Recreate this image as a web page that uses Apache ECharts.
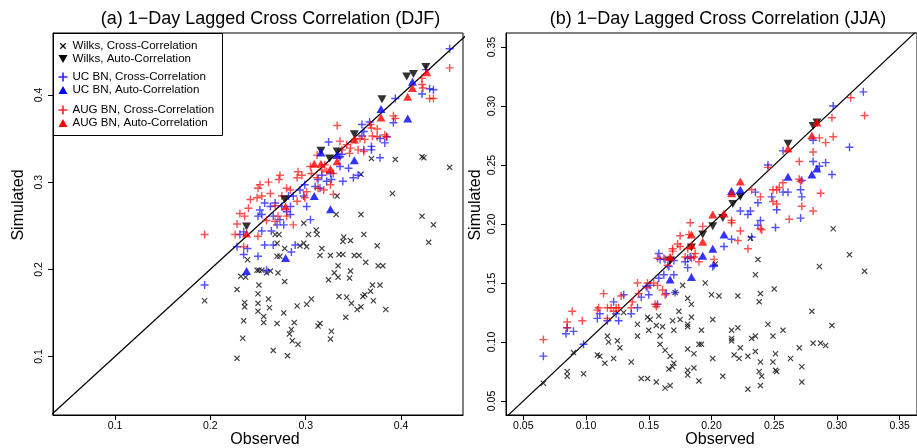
<!DOCTYPE html>
<html>
<head>
<meta charset="utf-8">
<script src="https://cdn.jsdelivr.net/npm/echarts@6/dist/echarts.min.js"></script>
<style>
  html, body { margin: 0; padding: 0; background: #fff; }
  #chart { width: 917px; height: 448px; }
</style>
</head>
<body>
<div id="chart"></div>
<script>
// ---- panel titles and tick labels ----
const titleDJF = '(a) 1\u2212Day Lagged Cross Correlation (DJF)';
const titleJJA = '(b) 1\u2212Day Lagged Cross Correlation (JJA)';
const xName = 'Observed';
const yName = 'Simulated';
const djfTickLabels = ['0.1', '0.2', '0.3', '0.4'];
const jjaTickLabels = ['0.05', '0.10', '0.15', '0.20', '0.25', '0.30', '0.35'];
const seriesNames = [
  'Wilks, Cross-Correlation', 'Wilks, Auto-Correlation',
  'UC BN, Cross-Correlation', 'UC BN, Auto-Correlation',
  'AUG BN, Cross-Correlation', 'AUG BN, Auto-Correlation'
];

// ---- DJF: [observed, simulated] ----
const djfWilksCross = [
  [0.369,0.327],[0.394,0.326],[0.422,0.329],[0.424,0.328],[0.451,0.317],[0.358,0.309],[0.391,0.287],
  [0.333,0.284],[0.332,0.263],[0.358,0.263],[0.422,0.261],[0.434,0.251],[0.298,0.253],[0.311,0.245],
  [0.312,0.240],[0.303,0.240],[0.272,0.240],[0.268,0.240],[0.340,0.237],[0.339,0.232],[0.347,0.233],
  [0.361,0.240],[0.317,0.224],[0.298,0.230],[0.294,0.227],[0.301,0.226],[0.375,0.227],[0.429,0.231],
  [0.270,0.230],[0.278,0.224],[0.315,0.216],[0.326,0.216],[0.335,0.217],[0.339,0.217],[0.351,0.216],
  [0.356,0.216],[0.270,0.215],[0.273,0.215],[0.239,0.211],[0.363,0.208],[0.334,0.204],[0.376,0.204],
  [0.381,0.204],[0.249,0.199],[0.251,0.199],[0.254,0.199],[0.263,0.198],[0.259,0.196],[0.271,0.196],
  [0.330,0.196],[0.347,0.198],[0.324,0.188],[0.334,0.191],[0.346,0.190],[0.232,0.192],[0.237,0.191],
  [0.278,0.186],[0.228,0.177],[0.251,0.182],[0.250,0.172],[0.194,0.164],[0.261,0.166],[0.236,0.162],
  [0.236,0.157],[0.250,0.161],[0.262,0.156],[0.250,0.152],[0.291,0.158],[0.301,0.160],[0.306,0.166],
  [0.335,0.169],[0.343,0.168],[0.348,0.161],[0.354,0.154],[0.358,0.157],[0.360,0.169],[0.362,0.171],
  [0.368,0.175],[0.370,0.182],[0.378,0.182],[0.371,0.164],[0.384,0.154],[0.342,0.145],[0.277,0.150],
  [0.256,0.146],[0.256,0.139],[0.270,0.138],[0.235,0.141],[0.288,0.139],[0.285,0.131],[0.283,0.126],
  [0.313,0.135],[0.315,0.138],[0.327,0.129],[0.326,0.120],[0.286,0.118],[0.292,0.114],[0.234,0.121],
  [0.266,0.107],[0.281,0.101],[0.228,0.098]
];
const djfWilksAuto = [
  [0.238,0.249],[0.278,0.280],[0.316,0.336],[0.325,0.327],[0.333,0.335],
  [0.351,0.355],[0.380,0.395],[0.406,0.421],[0.413,0.424],[0.426,0.432]
];
const djfUcCross = [
  [0.451,0.453],[0.430,0.407],[0.434,0.406],[0.422,0.401],[0.394,0.396],[0.367,0.369],[0.392,0.368],
  [0.359,0.366],[0.426,0.429],[0.361,0.358],[0.359,0.353],[0.324,0.346],[0.338,0.332],[0.369,0.341],
  [0.378,0.350],[0.383,0.345],[0.385,0.352],[0.369,0.337],[0.378,0.328],[0.361,0.337],[0.336,0.318],
  [0.350,0.305],[0.355,0.308],[0.339,0.301],[0.326,0.310],[0.327,0.303],[0.317,0.308],[0.313,0.303],
  [0.310,0.295],[0.299,0.297],[0.294,0.291],[0.298,0.284],[0.301,0.272],[0.287,0.284],[0.282,0.284],
  [0.284,0.272],[0.275,0.272],[0.268,0.276],[0.263,0.272],[0.257,0.276],[0.252,0.268],[0.254,0.263],
  [0.250,0.261],[0.266,0.261],[0.273,0.257],[0.277,0.251],[0.280,0.266],[0.284,0.263],[0.270,0.251],
  [0.264,0.244],[0.254,0.244],[0.235,0.243],[0.231,0.240],[0.266,0.228],[0.257,0.228],[0.228,0.226],
  [0.289,0.228],[0.305,0.257],[0.345,0.316],[0.336,0.329],[0.315,0.293],[0.322,0.301],[0.235,0.217],
  [0.239,0.224],[0.250,0.215],[0.259,0.199],[0.285,0.220],[0.194,0.182]
];
const djfUcAuto = [
  [0.238,0.198],[0.279,0.213],[0.309,0.284],[0.326,0.269],[0.316,0.334],
  [0.333,0.331],[0.351,0.325],[0.379,0.384],[0.407,0.373],[0.412,0.415]
];
const djfAugCross = [
  [0.451,0.431],[0.422,0.419],[0.422,0.412],[0.423,0.408],[0.430,0.396],[0.434,0.396],[0.333,0.365],
  [0.368,0.366],[0.375,0.361],[0.392,0.376],[0.394,0.373],[0.369,0.362],[0.370,0.353],[0.375,0.352],
  [0.383,0.354],[0.385,0.352],[0.336,0.347],[0.343,0.343],[0.347,0.339],[0.352,0.349],[0.357,0.350],
  [0.362,0.349],[0.355,0.337],[0.361,0.335],[0.346,0.333],[0.338,0.337],[0.312,0.331],[0.317,0.314],
  [0.320,0.320],[0.322,0.312],[0.329,0.310],[0.312,0.305],[0.313,0.293],[0.326,0.297],[0.292,0.312],
  [0.296,0.308],[0.280,0.293],[0.284,0.291],[0.273,0.308],[0.272,0.303],[0.261,0.300],[0.252,0.297],
  [0.250,0.293],[0.254,0.284],[0.263,0.287],[0.249,0.282],[0.242,0.280],[0.240,0.270],[0.231,0.264],
  [0.236,0.261],[0.228,0.252],[0.226,0.240],[0.250,0.238],[0.259,0.256],[0.271,0.261],[0.268,0.255],
  [0.280,0.261],[0.287,0.251],[0.194,0.240],[0.291,0.278],[0.275,0.284],[0.268,0.273],[0.299,0.282],
  [0.301,0.289],[0.329,0.286],[0.319,0.291],[0.305,0.318],[0.306,0.310],[0.291,0.305],[0.235,0.226]
];
const djfAugAuto = [
  [0.238,0.241],[0.279,0.272],[0.309,0.321],[0.316,0.321],[0.326,0.315],[0.333,0.324],
  [0.351,0.349],[0.379,0.374],[0.407,0.398],[0.412,0.408],[0.427,0.426]
];

// ---- JJA: [observed, simulated] ----
const jjaWilksCross = [
  [0.297,0.196],[0.310,0.174],[0.286,0.164],[0.322,0.160],[0.237,0.170],[0.235,0.157],[0.231,0.188],
  [0.203,0.166],[0.195,0.150],[0.177,0.148],[0.171,0.142],[0.200,0.140],[0.206,0.139],[0.221,0.139],
  [0.239,0.141],[0.250,0.145],[0.181,0.137],[0.184,0.132],[0.238,0.134],[0.280,0.126],[0.174,0.126],
  [0.296,0.114],[0.149,0.121],[0.151,0.119],[0.158,0.122],[0.161,0.113],[0.169,0.118],[0.175,0.119],
  [0.181,0.115],[0.181,0.113],[0.184,0.121],[0.192,0.110],[0.201,0.119],[0.150,0.110],[0.156,0.114],
  [0.170,0.110],[0.141,0.115],[0.141,0.105],[0.130,0.125],[0.125,0.101],[0.117,0.105],[0.118,0.100],
  [0.127,0.095],[0.159,0.105],[0.159,0.098],[0.163,0.093],[0.167,0.088],[0.181,0.094],[0.186,0.090],
  [0.190,0.098],[0.192,0.098],[0.201,0.086],[0.216,0.110],[0.216,0.103],[0.216,0.101],[0.221,0.112],
  [0.223,0.095],[0.218,0.089],[0.222,0.086],[0.229,0.088],[0.232,0.103],[0.235,0.105],[0.235,0.092],
  [0.239,0.083],[0.245,0.115],[0.249,0.105],[0.257,0.110],[0.251,0.090],[0.249,0.083],[0.263,0.086],
  [0.270,0.095],[0.281,0.099],[0.287,0.099],[0.291,0.097],[0.272,0.079],[0.109,0.089],[0.111,0.088],
  [0.115,0.082],[0.122,0.086],[0.136,0.083],[0.090,0.091],[0.066,0.065],[0.085,0.075],[0.085,0.071],
  [0.098,0.073],[0.144,0.069],[0.149,0.069],[0.156,0.066],[0.163,0.061],[0.167,0.063],[0.166,0.077],
  [0.169,0.079],[0.170,0.082],[0.181,0.076],[0.181,0.072],[0.186,0.078],[0.190,0.067],[0.209,0.071],
  [0.229,0.060],[0.239,0.063],[0.238,0.075],[0.240,0.071],[0.251,0.076],[0.252,0.075],[0.272,0.066]
];
const jjaWilksAuto = [
  [0.167,0.169],[0.184,0.180],[0.193,0.191],[0.201,0.198],[0.209,0.205],
  [0.217,0.217],[0.223,0.223],[0.261,0.268],[0.281,0.283],[0.284,0.286]
];
const jjaUcCross = [
  [0.321,0.312],[0.297,0.300],[0.281,0.271],[0.257,0.262],[0.310,0.265],[0.281,0.253],[0.291,0.252],
  [0.286,0.249],[0.296,0.242],[0.245,0.250],[0.272,0.237],[0.271,0.229],[0.261,0.227],[0.257,0.227],
  [0.235,0.227],[0.248,0.223],[0.272,0.223],[0.237,0.218],[0.252,0.212],[0.271,0.205],[0.251,0.197],
  [0.239,0.203],[0.237,0.199],[0.231,0.211],[0.229,0.208],[0.223,0.211],[0.232,0.189],[0.216,0.187],
  [0.210,0.181],[0.202,0.165],[0.201,0.164],[0.181,0.163],[0.181,0.171],[0.183,0.172],[0.179,0.168],
  [0.170,0.169],[0.166,0.164],[0.158,0.175],[0.159,0.170],[0.163,0.170],[0.170,0.157],[0.162,0.157],
  [0.158,0.154],[0.151,0.148],[0.148,0.147],[0.171,0.142],[0.164,0.141],[0.150,0.140],[0.144,0.138],
  [0.130,0.140],[0.122,0.134],[0.157,0.132],[0.141,0.129],[0.124,0.124],[0.126,0.118],[0.109,0.120],
  [0.117,0.118],[0.111,0.124],[0.085,0.112],[0.084,0.107],[0.090,0.109],[0.098,0.098],[0.066,0.088],
  [0.136,0.124]
];
const jjaUcAuto = [
  [0.167,0.153],[0.184,0.155],[0.193,0.173],[0.201,0.179],[0.210,0.191],
  [0.216,0.228],[0.223,0.229],[0.261,0.240],[0.280,0.242],[0.284,0.247]
];
const jjaAugCross = [
  [0.311,0.307],[0.322,0.292],[0.296,0.290],[0.286,0.273],[0.291,0.269],[0.297,0.274],[0.281,0.261],
  [0.270,0.253],[0.245,0.248],[0.270,0.238],[0.271,0.236],[0.257,0.235],[0.254,0.231],[0.252,0.229],
  [0.249,0.229],[0.287,0.226],[0.239,0.223],[0.232,0.229],[0.249,0.219],[0.252,0.217],[0.272,0.215],
  [0.281,0.211],[0.262,0.204],[0.239,0.196],[0.240,0.195],[0.223,0.194],[0.221,0.186],[0.229,0.179],
  [0.216,0.203],[0.216,0.201],[0.193,0.198],[0.183,0.201],[0.175,0.190],[0.182,0.191],[0.173,0.183],
  [0.175,0.181],[0.181,0.179],[0.184,0.171],[0.187,0.175],[0.190,0.168],[0.186,0.172],[0.179,0.172],
  [0.202,0.170],[0.169,0.179],[0.169,0.177],[0.162,0.171],[0.157,0.171],[0.167,0.170],[0.165,0.165],
  [0.149,0.150],[0.149,0.146],[0.141,0.150],[0.154,0.150],[0.157,0.148],[0.163,0.140],[0.142,0.141],
  [0.114,0.141],[0.161,0.144],[0.128,0.139],[0.156,0.130],[0.155,0.132],[0.089,0.126],[0.097,0.118],
  [0.085,0.117],[0.085,0.112],[0.066,0.102],[0.109,0.127],[0.110,0.129],[0.117,0.129],[0.120,0.129],
  [0.122,0.126],[0.124,0.129],[0.126,0.129],[0.117,0.120],[0.137,0.134],[0.136,0.129]
];
const jjaAugAuto = [
  [0.167,0.172],[0.184,0.191],[0.184,0.182],[0.193,0.185],[0.201,0.208],[0.210,0.209],
  [0.216,0.226],[0.223,0.236],[0.261,0.264],[0.280,0.275],[0.284,0.286]
];

// ---- marker shapes (10x10 boxes) ----
const SYM_CROSS = 'path://M1.4,0L5,3.6L8.6,0L10,1.4L6.4,5L10,8.6L8.6,10L5,6.4L1.4,10L0,8.6L3.6,5L0,1.4Z';
const SYM_CROSS_KEY = 'path://M-2,-2M12,12M1.4,0L5,3.6L8.6,0L10,1.4L6.4,5L10,8.6L8.6,10L5,6.4L1.4,10L0,8.6L3.6,5L0,1.4Z';
const SYM_PLUS = 'path://M4.1,0H5.9V4.1H10V5.9H5.9V10H4.1V5.9H0V4.1H4.1Z';
const SYM_DOWN = 'path://M0,0H10L5,8.66Z';
const SYM_UP = 'path://M5,0L10,8.66H0Z';

const FONT = '"Liberation Sans", Arial, Helvetica, sans-serif';
const BLUE_T = 'rgba(0,0,255,0.85)';
const RED_T = 'rgba(255,0,0,0.85)';

const chart = echarts.init(document.getElementById('chart'), null, { renderer: 'canvas' });

function tickFormatter(labels) {
  const vals = labels.map(Number);
  return function (v) {
    const i = vals.findIndex(t => Math.abs(t - v) < 1e-9);
    return i >= 0 ? labels[i] : '';
  };
}

function makeAxis(grid, min, max, labels, isY) {
  const vals = labels.map(Number);
  return {
    gridIndex: grid, type: 'value', min: min, max: max,
    axisLine: { show: true, onZero: false, lineStyle: { color: '#000', width: 1 } },
    axisTick: { show: true, length: 5, customValues: vals, lineStyle: { color: '#000', width: 1 } },
    axisLabel: {
      customValues: vals, formatter: tickFormatter(labels),
      fontSize: 10.5, fontFamily: FONT, color: '#000',
      margin: isY ? 8 : 6, rotate: isY ? 90 : 0
    },
    splitLine: { show: false }
  };
}

function panelSeries(idx, d) {
  const base = { xAxisIndex: idx, yAxisIndex: idx, type: 'scatter', silent: true, animation: false };
  return [
    { type: 'line', name: 'identity', xAxisIndex: idx, yAxisIndex: idx, data: [[0, 0], [0.6, 0.6]],
      showSymbol: false, clip: true, silent: true, animation: false,
      lineStyle: { color: '#000', width: 1.2 }, z: 1 },
    Object.assign({}, base, { name: seriesNames[0], data: d.wc, symbol: SYM_CROSS, symbolSize: 6,
      itemStyle: { color: '#111' } }),
    Object.assign({}, base, { name: seriesNames[2], data: d.uc, symbol: SYM_PLUS, symbolSize: 8,
      itemStyle: { color: BLUE_T } }),
    Object.assign({}, base, { name: seriesNames[4], data: d.ac, symbol: SYM_PLUS, symbolSize: 8,
      itemStyle: { color: RED_T } }),
    Object.assign({}, base, { name: seriesNames[1], data: d.wa, symbol: SYM_DOWN, symbolSize: [9, 8],
      itemStyle: { color: '#000' } }),
    Object.assign({}, base, { name: seriesNames[3], data: d.ua, symbol: SYM_UP, symbolSize: [9, 8],
      itemStyle: { color: '#0000ff' } }),
    Object.assign({}, base, { name: seriesNames[5], data: d.aa, symbol: SYM_UP, symbolSize: [9, 8],
      itemStyle: { color: '#ff0000' } })
  ];
}

function legendGroup(top, names, icons) {
  return {
    orient: 'vertical', left: 58.5, top: top, padding: 0,
    itemWidth: 9, itemHeight: 9, itemGap: 0, selectedMode: false,
    textStyle: { fontSize: 11.6, fontFamily: FONT, color: '#000', lineHeight: 13 },
    data: names.map((n, i) => ({ name: n, icon: icons[i], itemStyle: { opacity: 1 } }))
  };
}

function label(text, x, y, size, rot) {
  return {
    type: 'text', x: x, y: y, rotation: rot || 0, silent: true,
    style: { text: text, fontSize: size, fontFamily: FONT, fill: '#000', align: 'center', verticalAlign: 'middle' }
  };
}

const option = {
  animation: false,
  backgroundColor: '#fff',
  grid: [
    { left: 53, right: 454, top: 33, bottom: 33, show: true, borderColor: '#000', borderWidth: 1, backgroundColor: 'transparent' },
    { left: 506, right: -3, top: 33, bottom: 33, show: true, borderColor: '#000', borderWidth: 1, backgroundColor: 'transparent' }
  ],
  xAxis: [
    makeAxis(0, 0.035, 0.465, djfTickLabels, false),
    makeAxis(1, 0.0362, 0.3638, jjaTickLabels, false)
  ],
  yAxis: [
    makeAxis(0, 0.033, 0.471, djfTickLabels, true),
    makeAxis(1, 0.0381, 0.3619, jjaTickLabels, true)
  ],
  legend: [
    legendGroup(39.5, seriesNames.slice(0, 2), [SYM_CROSS_KEY, SYM_DOWN]),
    legendGroup(70.5, seriesNames.slice(2, 4), [SYM_PLUS, SYM_UP]),
    legendGroup(103.5, seriesNames.slice(4, 6), [SYM_PLUS, SYM_UP])
  ],
  graphic: [
    { type: 'rect', silent: true, z: 0, shape: { x: 53.5, y: 33.5, width: 169, height: 102 },
      style: { fill: '#fff', stroke: '#000', lineWidth: 1 } },
    label(titleDJF, 270.5, 19.5, 18),
    label(titleJJA, 718, 19.5, 18),
    label(xName, 265, 440, 16),
    label(xName, 720, 440, 16),
    label(yName, 18.5, 205, 16, Math.PI / 2),
    label(yName, 476, 205, 16, Math.PI / 2)
  ],
  series: [].concat(
    panelSeries(0, { wc: djfWilksCross, wa: djfWilksAuto, uc: djfUcCross, ua: djfUcAuto, ac: djfAugCross, aa: djfAugAuto }),
    panelSeries(1, { wc: jjaWilksCross, wa: jjaWilksAuto, uc: jjaUcCross, ua: jjaUcAuto, ac: jjaAugCross, aa: jjaAugAuto })
  )
};

chart.setOption(option);
</script>
</body>
</html>
